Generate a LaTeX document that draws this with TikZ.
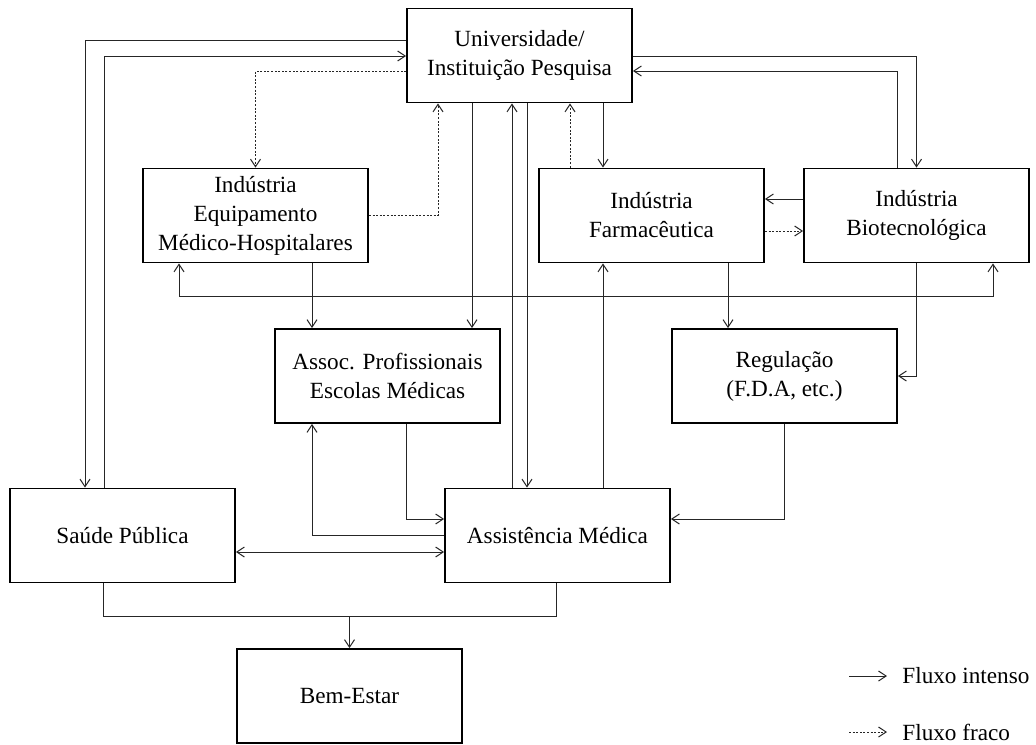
\documentclass[tikz,border=0pt]{standalone}
\usepackage{fontspec}
\setmainfont{Liberation Serif}
\usetikzlibrary{arrows.meta}

\begin{document}
\begin{tikzpicture}[x=0.5pt,y=-0.5pt,
    font=\fontsize{11.6pt}{14.5pt}\selectfont,
    box/.style={draw,line width=0.9pt,minimum width=112.5pt,minimum height=47pt,inner sep=0pt,align=center},
    flow/.style={draw=black!85,line width=0.5pt,-{Straight Barb[length=3.8pt,width=5pt]}},
    weak/.style={flow,dash pattern=on 1pt off 0.8pt},
    both/.style={flow,{Straight Barb[length=3.8pt,width=5pt]}-{Straight Barb[length=3.8pt,width=5pt]}}]
    \useasboundingbox (0,0) rectangle (1036,744);

    \node[box] (U) at (519.5,55.5) {Universidade/\\Instituição Pesquisa};
    \node[box] (E) at (255.5,215.5) {Indústria\\Equipamento\\Médico-Hospitalares};
    \node[box] (F) at (651.5,215.5) {Indústria\\Farmacêutica};
    \node[box] (B) at (916.5,215.5) {Indústria\\Biotecnológica};
    \node[box] (A) at (387.5,376) {Assoc. Profissionais\\Escolas Médicas};
    \node[box] (R) at (784.5,376) {Regulação\\(F.D.A, etc.)};
    \node[box] (S) at (122.5,535.5) {Saúde Pública};
    \node[box] (M) at (557.5,535.5) {Assistência Médica};
    \node[box] (W) at (349.5,696) {Bem-Estar};
    \coordinate (j) at (349.5,616);

    \draw[flow] (U.west |- 0,40) -| (S.north -| 85,0);
    \draw[flow] (S.north -| 104,0) |- (U.west |- 0,56);
    \draw[weak] (U.west |- 0,71) -| (E.north);
    \draw[weak] (E.east) -| (U.south -| 438,0);
    \draw[flow] (U.south -| 472,0) -- (A.north -| 472,0);
    \draw[flow] (M.north -| 512,0) -- (U.south -| 512,0);
    \draw[flow] (U.south -| 527,0) -- (M.north -| 527,0);
    \draw[weak] (F.north -| 570,0) -- (U.south -| 570,0);
    \draw[flow] (U.south -| 603,0) -- (F.north -| 603,0);
    \draw[flow] (U.east |- 0,56) -| (B.north);
    \draw[flow] (B.north -| 897,0) |- (U.east |- 0,71);
    \draw[flow] (B.west |- 0,199) -- (F.east |- 0,199);
    \draw[weak] (F.east |- 0,231) -- (B.west |- 0,231);
    \draw[flow] (F.south -| 728,0) -- (R.north -| 728,0);
    \draw[flow] (M.north -| 603,0) -- (F.south -| 603,0);
    \draw[flow] (B.south) |- (R.east);
    \draw[both] (E.south -| 179,0) -- (179,296) -| (B.south -| 993,0);
    \draw[flow] (E.south -| 312,0) -- (A.north -| 312,0);
    \draw[flow] (A.south -| 406,0) |- (M.west |- 0,519);
    \draw[flow] (M.west |- 0,535) -| (A.south -| 312,0);
    \draw[flow] (R.south) |- (M.east |- 0,519);
    \draw[both] (S.east |- 0,552) -- (M.west |- 0,552);
    \draw[draw=black!85,line width=0.5pt] (S.south -| 103,0) |- (j) -| (M.south -| 556,0);
    \draw[flow] (j) -- (W.north);

    \node[anchor=west,inner sep=0pt] (li) at (902,676) {Fluxo intenso};
    \node[anchor=west,inner sep=0pt] (lf) at (902,732) {Fluxo fraco};
    \coordinate (ls) at (849,676);
    \coordinate (lw) at (849,732);
    \draw[flow] (ls) -- ([xshift=-7.5pt]li.west);
    \draw[weak] (lw) -- ([xshift=-7.5pt]lf.west);
\end{tikzpicture}
\end{document}
